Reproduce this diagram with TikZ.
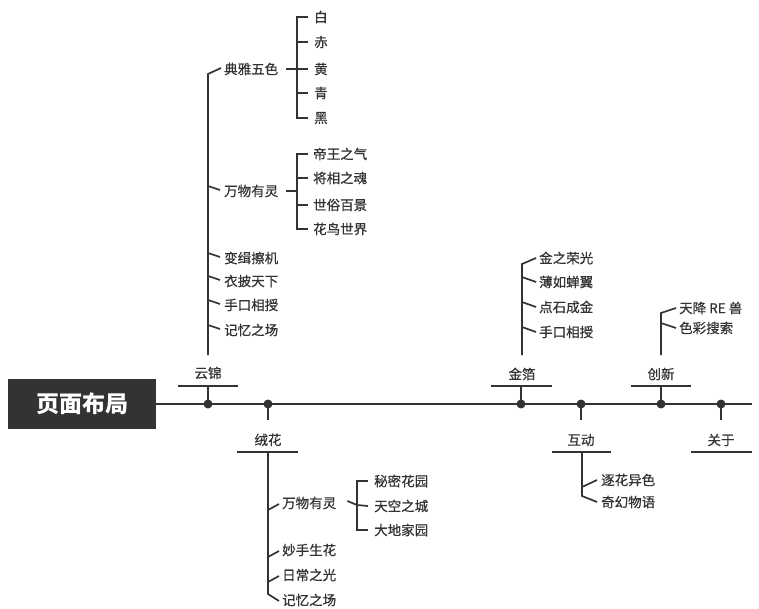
\documentclass[tikz,border=0pt]{standalone}
\usepackage{fontspec}
\setmainfont{Noto Sans CJK SC}
\newfontfamily\medfont[FakeBold=0.6]{Noto Sans CJK SC}
\definecolor{ink}{HTML}{333333}
\begin{document}
\begin{tikzpicture}[x=1pt,y=-1pt,
  leaf/.style={anchor=west,inner sep=0pt,text=ink,font=\medfont\fontsize{13.5}{13.5}\selectfont},
  lbl/.style={inner sep=0pt,text=ink,font=\medfont\fontsize{13.5}{13.5}\selectfont},
  ln/.style={draw=ink,line width=1.7pt},
  mainln/.style={draw=ink,line width=2.1pt},
  stub/.style={draw=ink,line width=2.8pt},
  dotn/.style={circle,fill=ink,inner sep=0pt,minimum size=9pt},
]
\useasboundingbox (0,0) rectangle (759,609);

% title box and main line
\node[fill=ink,text=white,minimum width=148pt,minimum height=50pt,inner sep=0pt,
      font=\fontsize{23}{23}\selectfont\bfseries] (title) at (82,404) {页面布局};
\coordinate (mend) at (752,404);
\draw[mainln] (title.east) -- (mend);

% dots on main line
\node[dotn] (d1) at (208,404) {};
\node[dotn] (d2) at (268,404) {};
\node[dotn] (d3) at (521,404) {};
\node[dotn] (d4) at (581,404) {};
\node[dotn] (d5) at (661,404) {};
\node[dotn] (d6) at (721,404) {};

% bars
\coordinate (b1) at (208,386); \draw[mainln] (178,386) -- (238,386);
\coordinate (b3) at (521,386); \draw[mainln] (491,386) -- (552,386);
\coordinate (b5) at (661,386); \draw[mainln] (631,386) -- (691,386);
\coordinate (s2) at (268,420); \draw[mainln] (237,452) -- (298,452);
\coordinate (s4) at (581,420); \draw[mainln] (552,452) -- (611,452);
\coordinate (s6) at (721,420); \draw[mainln] (691,452) -- (752,452);
\draw[stub] (d1.center) -- (b1);
\draw[stub] (d3.center) -- (b3);
\draw[stub] (d5.center) -- (b5);
\draw[stub] (d2.center) -- (s2);
\draw[stub] (d4.center) -- (s4);
\draw[stub] (d6.center) -- (s6);

% branch labels
\node[lbl] (yunjin) at (208,373) {云锦};
\node[lbl] (jinbo) at (522,374) {金箔};
\node[lbl] (chuangxin) at (661,374) {创新};
\node[lbl] (ronghua) at (268,440) {绒花};
\node[lbl] (hudong) at (581,440) {互动};
\node[lbl] (guanyu) at (721,440) {关于};

% ---- 云锦 tree
\node[leaf] (ya1) at (224,69) {典雅五色};
\node[leaf] (ya2) at (224,191) {万物有灵};
\node[leaf] (ya3) at (224,258) {变缉擦机};
\node[leaf] (ya4) at (224,281) {衣披天下};
\node[leaf] (ya5) at (224,305) {手口相授};
\node[leaf] (ya6) at (224,330) {记忆之场};
\coordinate (yt) at (208,355);
\draw[ln] (yt) -- (208,74) -- ([xshift=-3pt,yshift=1pt]ya1.west);
\foreach \n in {ya2,ya3,ya4,ya5,ya6}
  \draw[ln] ([xshift=-16pt,yshift=5pt]\n.west) -- ([xshift=-4pt,yshift=1pt]\n.west);

% 典雅五色 colours
\node[leaf] (c1) at (314,17) {白};
\node[leaf] (c2) at (314,42) {赤};
\node[leaf] (c3) at (314,69) {黄};
\node[leaf] (c4) at (314,93) {青};
\node[leaf] (c5) at (314,118) {黑};
\draw[ln] ([xshift=-6pt]c1.west) -- (297,17) -- (297,118) -- ([xshift=-6pt]c5.west);
\draw[ln] ([xshift=-6pt]c2.west) -- (297,42);
\draw[ln] ([xshift=-6pt]c4.west) -- (297,93);
\draw[ln] ([xshift=8pt]ya1.east) -- ([xshift=-6pt]c3.west);

% 万物有灵 (云锦)
\node[leaf] (w1) at (313,154) {帝王之气};
\node[leaf] (w2) at (313,178) {将相之魂};
\node[leaf] (w3) at (313,205) {世俗百景};
\node[leaf] (w4) at (313,229) {花鸟世界};
\draw[ln] ([xshift=-5pt]w1.west) -- (297,154) -- (297,229) -- ([xshift=-5pt]w4.west);
\draw[ln] ([xshift=-5pt]w2.west) -- (297,178);
\draw[ln] ([xshift=-5pt]w3.west) -- (297,205);
\draw[ln] ([xshift=8pt]ya2.east) -- (297,191);

% ---- 绒花 tree
\node[leaf] (r1) at (282,503) {万物有灵};
\node[leaf] (r2) at (282,550) {妙手生花};
\node[leaf] (r3) at (282,575) {日常之光};
\node[leaf] (r4) at (282,600) {记忆之场};
\coordinate (rt) at (268,452);
\draw[ln] (rt) -- (268,594) -- ([xshift=-3pt,yshift=-1pt]r4.west);
\foreach \n in {r1,r2,r3}
  \draw[ln] ([xshift=-14pt,yshift=-7pt]\n.west) -- ([xshift=-3pt,yshift=-1pt]\n.west);
\node[leaf] (g1) at (374,481) {秘密花园};
\node[leaf] (g2) at (374,506) {天空之城};
\node[leaf] (g3) at (374,530) {大地家园};
\draw[ln] ([xshift=-6pt]g1.west) -- (357,481) -- (357,530) -- ([xshift=-6pt]g3.west);
\draw[ln] ([xshift=11pt,yshift=2pt]r1.east) -- (357,505) -- ([xshift=-6pt]g2.west);

% ---- 金箔 tree
\node[leaf] (j1) at (539,258) {金之荣光};
\node[leaf] (j2) at (539,282) {薄如蝉翼};
\node[leaf] (j3) at (539,307) {点石成金};
\node[leaf] (j4) at (539,332) {手口相授};
\coordinate (jt) at (522,355);
\draw[ln] (jt) -- (522,264) -- ([xshift=-3pt]j1.west);
\foreach \n in {j2,j3,j4}
  \draw[ln] ([xshift=-17pt,yshift=5pt]\n.west) -- ([xshift=-3pt]\n.west);

% ---- 创新 tree
\node[leaf] (x1) at (679,308) {天降 RE 兽};
\node[leaf] (x2) at (679,328) {色彩搜索};
\coordinate (xt) at (661,355);
\draw[ln] (xt) -- (661,313) -- ([xshift=-3pt]x1.west);
\draw[ln] ([xshift=-18pt,yshift=5pt]x2.west) -- ([xshift=-3pt]x2.west);

% ---- 互动 tree
\node[leaf] (h1) at (601,480) {逐花异色};
\node[leaf] (h2) at (601,502) {奇幻物语};
\coordinate (ht) at (582,452);
\draw[ln] (ht) -- (582,496) -- ([xshift=-4pt]h2.west);
\draw[ln] ([xshift=-19pt,yshift=-7pt]h1.west) -- ([xshift=-4pt]h1.west);
\end{tikzpicture}
\end{document}
